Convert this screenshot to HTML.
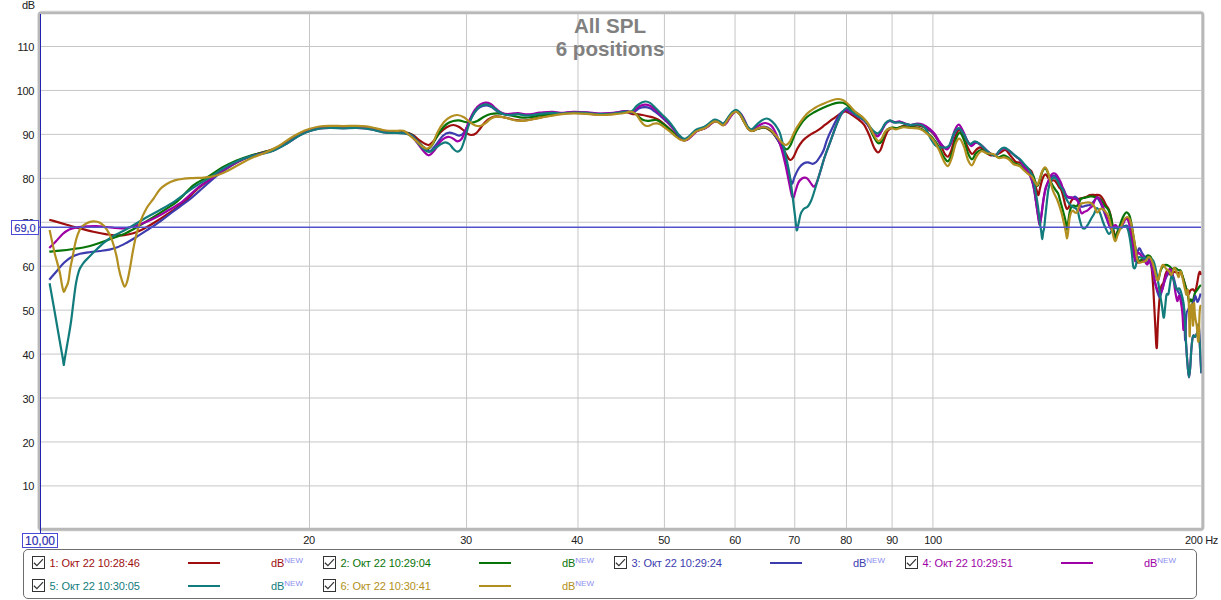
<!DOCTYPE html><html><head><meta charset="utf-8"><title>All SPL</title><style>
html,body{margin:0;padding:0;background:#fff}
body{width:1221px;height:600px;position:relative;overflow:hidden;font-family:"Liberation Sans",sans-serif;font-size:11px;color:#202020}
.t{position:absolute;white-space:nowrap;line-height:1;letter-spacing:-0.3px}
.yl{position:absolute;left:0;width:34.2px;letter-spacing:-0.3px;text-align:right;line-height:11px;height:11px}
.xl{position:absolute;top:535px;width:40px;letter-spacing:-0.25px;text-align:center;line-height:11px}
.title{position:absolute;left:410px;width:400px;text-align:center;font-weight:bold;font-size:20.6px;color:#808080;line-height:22.3px;top:15.4px}
.box{position:absolute;border:1px solid #4a4ad4;background:#fff;color:#2c2cb0;box-sizing:border-box;text-align:center;-webkit-text-stroke:0.15px #2c2cb0}
.leg{position:absolute;left:23px;top:549px;width:1174px;height:50px;border:1px solid #6e6e6e;border-radius:5px;box-sizing:border-box;background:#fff}
.cb{position:absolute;width:13px;height:13px;border:1px solid #333;box-sizing:border-box;background:#fff}
.cb svg{position:absolute;left:0;top:0}
.lt{position:absolute;white-space:nowrap;line-height:11px;font-size:11px;letter-spacing:-0.1px}
.sw{position:absolute;width:32px;height:2px}
.new{font-size:8px;color:#8c8cf0;position:relative;top:-4px;letter-spacing:0}
</style></head><body>
<svg width="1221" height="600" viewBox="0 0 1221 600" style="position:absolute;left:0;top:0">
<rect x="39.2" y="12.8" width="1163.6" height="516.6" rx="2.5" ry="2.5" fill="none" stroke="#e6e6e6" stroke-width="4.4"/>
<rect x="39.3" y="12.95" width="1163.4" height="516.3" rx="2" ry="2" fill="#fff" stroke="#b8b8b8" stroke-width="2.8"/>
<path d="M41 46.50H1201M41 90.44H1201M41 134.38H1201M41 178.32H1201M41 222.26H1201M41 266.20H1201M41 310.14H1201M41 354.08H1201M41 398.02H1201M41 441.96H1201M41 485.90H1201M309.49 14V528M466.55 14V528M577.98 14V528M664.42 14V528M735.04 14V528M794.75 14V528M846.47 14V528M892.10 14V528M932.91 14V528" stroke="#c6c6c6" stroke-width="1" fill="none"/>
<clipPath id="cp"><rect x="41" y="14" width="1160.5" height="514"/></clipPath>
<g clip-path="url(#cp)" fill="none" stroke-width="2.2" stroke-linejoin="round" stroke-linecap="butt">
<path d="M49.30 219.70C55.10 221.37 60.90 223.06 66.70 224.70C71.13 225.95 75.57 227.23 80.00 228.40C84.43 229.57 88.87 230.72 93.30 231.70C97.77 232.69 102.23 233.63 106.70 234.30C109.37 234.70 112.03 235.15 114.70 235.30C117.37 235.45 120.03 235.49 122.70 235.30C126.23 235.05 129.77 234.39 133.30 233.30C135.97 232.47 138.63 231.26 141.30 230.00C145.30 228.12 149.30 225.69 153.30 223.30C157.77 220.63 162.23 217.75 166.70 214.70C172.47 210.77 178.23 206.95 184.00 202.00C188.67 197.99 193.33 192.44 198.00 188.50C202.67 184.56 207.33 181.61 212.00 178.30C216.50 175.11 221.00 171.84 225.50 169.00C229.83 166.26 234.17 163.68 238.50 161.50C242.57 159.46 246.63 157.74 250.70 156.20C254.70 154.69 258.70 153.51 262.70 152.30C266.23 151.23 269.77 150.66 273.30 149.30C277.77 147.58 282.23 144.88 286.70 142.30C291.13 139.74 295.57 136.18 300.00 133.90C303.33 132.18 306.67 130.71 310.00 129.60C313.10 128.57 316.20 127.78 319.30 127.30C322.87 126.74 326.43 126.68 330.00 126.60C334.43 126.50 338.87 126.90 343.30 126.90C347.77 126.90 352.23 126.49 356.70 126.60C359.80 126.68 362.90 126.83 366.00 127.20C369.10 127.57 372.20 128.27 375.30 128.90C378.87 129.62 382.43 130.88 386.00 131.30C389.57 131.72 393.13 131.46 396.70 131.60C399.37 131.71 402.03 131.48 404.70 132.00C407.57 132.56 410.43 133.55 413.30 135.30C415.53 136.66 417.77 139.13 420.00 140.70C421.77 141.94 423.53 143.26 425.30 144.00C426.43 144.47 427.57 145.17 428.70 145.00C430.23 144.77 431.77 142.83 433.30 141.30C435.53 139.07 437.77 135.02 440.00 132.70C442.23 130.38 444.47 128.56 446.70 127.30C448.90 126.06 451.10 124.97 453.30 125.00C455.10 125.03 456.90 125.75 458.70 126.70C460.47 127.63 462.23 129.30 464.00 130.70C465.33 131.76 466.67 133.30 468.00 134.00C469.10 134.58 470.20 134.97 471.30 135.00C472.87 135.04 474.43 134.49 476.00 133.30C477.33 132.29 478.67 130.30 480.00 128.70C481.77 126.58 483.53 123.76 485.30 122.00C487.10 120.21 488.90 118.92 490.70 118.00C492.47 117.10 494.23 116.61 496.00 116.40C498.67 116.08 501.33 116.81 504.00 117.30C505.33 117.54 506.67 117.89 508.00 118.20C510.67 118.82 513.33 119.84 516.00 120.20C518.67 120.56 521.33 120.64 524.00 120.50C527.10 120.34 530.20 119.47 533.30 118.90C537.77 118.08 542.23 117.02 546.70 116.20C551.13 115.39 555.57 114.52 560.00 114.00C564.43 113.48 568.87 113.07 573.30 113.00C577.77 112.92 582.23 113.22 586.70 113.50C591.13 113.78 595.57 114.63 600.00 114.70C604.43 114.77 608.87 114.40 613.30 114.00C617.77 113.59 622.23 111.43 626.70 112.20C628.37 112.49 630.03 113.48 631.70 113.80C633.37 114.12 635.03 114.02 636.70 114.20C638.63 114.41 640.57 114.65 642.50 115.00C644.43 115.35 646.37 115.85 648.30 116.30C649.97 116.69 651.63 116.96 653.30 117.50C654.70 117.96 656.10 118.44 657.50 119.20C658.90 119.96 660.30 121.04 661.70 122.10C663.37 123.36 665.03 124.85 666.70 126.30C668.37 127.75 670.03 129.22 671.70 130.80C673.37 132.38 675.03 134.29 676.70 135.80C678.07 137.04 679.43 138.43 680.80 139.20C682.07 139.92 683.33 140.62 684.60 140.50C685.83 140.39 687.07 139.40 688.30 138.50C689.70 137.48 691.10 135.80 692.50 134.50C693.60 133.48 694.70 132.24 695.80 131.50C697.20 130.56 698.60 130.31 700.00 129.80C701.33 129.32 702.67 129.14 704.00 128.50C705.17 127.94 706.33 127.16 707.50 126.30C708.67 125.44 709.83 124.12 711.00 123.30C712.23 122.44 713.47 121.44 714.70 121.30C715.63 121.19 716.57 121.44 717.50 121.80C718.33 122.12 719.17 122.81 720.00 123.30C721.10 123.95 722.20 125.56 723.30 125.20C724.03 124.96 724.77 123.91 725.50 123.00C726.33 121.97 727.17 120.41 728.00 119.20C729.33 117.26 730.67 115.06 732.00 113.80C733.33 112.54 734.67 111.40 736.00 111.50C737.33 111.60 738.67 112.82 740.00 114.50C741.33 116.18 742.67 119.47 744.00 121.80C745.33 124.13 746.67 126.98 748.00 128.50C749.10 129.75 750.20 130.55 751.30 130.90C753.30 131.53 755.30 129.54 757.30 129.00C759.53 128.39 761.77 127.21 764.00 127.50C766.23 127.79 768.47 129.11 770.70 131.00C772.47 132.50 774.23 134.57 776.00 137.00C777.33 138.84 778.67 141.09 780.00 143.30C781.77 146.23 783.53 149.58 785.30 152.70C786.43 154.70 787.57 157.52 788.70 158.70C789.37 159.40 790.03 160.05 790.70 160.00C791.57 159.94 792.43 158.57 793.30 157.30C794.63 155.35 795.97 151.17 797.30 148.70C799.10 145.36 800.90 142.80 802.70 140.70C804.90 138.13 807.10 136.85 809.30 135.30C811.97 133.42 814.63 132.46 817.30 130.70C819.97 128.94 822.63 126.70 825.30 124.70C827.97 122.70 830.63 120.63 833.30 118.70C835.53 117.08 837.77 115.33 840.00 114.00C841.77 112.95 843.53 111.31 845.30 111.30C847.10 111.29 848.90 112.93 850.70 114.00C852.90 115.31 855.10 116.94 857.30 118.70C859.53 120.49 861.77 121.39 864.00 124.70C865.77 127.32 867.53 131.35 869.30 135.30C871.10 139.32 872.90 145.78 874.70 148.70C875.80 150.48 876.90 152.46 878.00 152.40C878.83 152.35 879.67 151.42 880.50 150.00C881.67 148.01 882.83 143.04 884.00 140.00C885.33 136.53 886.67 132.63 888.00 130.70C889.33 128.77 890.67 128.42 892.00 128.00C893.77 127.44 895.53 128.58 897.30 128.30C899.10 128.01 900.90 126.30 902.70 126.00C904.90 125.64 907.10 126.74 909.30 126.70C911.97 126.65 914.63 125.11 917.30 125.30C919.53 125.46 921.77 126.31 924.00 127.30C926.23 128.29 928.47 129.33 930.70 131.30C932.47 132.86 934.23 134.75 936.00 137.30C937.77 139.85 939.53 143.34 941.30 146.70C942.63 149.23 943.97 153.07 945.30 154.70C946.20 155.80 947.10 157.10 948.00 156.70C948.90 156.30 949.80 154.13 950.70 152.00C952.03 148.85 953.37 142.35 954.70 138.70C956.03 135.05 957.37 130.59 958.70 130.00C960.03 129.41 961.37 132.40 962.70 134.70C964.47 137.75 966.23 144.60 968.00 148.00C969.33 150.57 970.67 153.71 972.00 154.00C973.33 154.29 974.67 151.11 976.00 150.00C977.33 148.89 978.67 147.30 980.00 147.30C981.77 147.29 983.53 150.68 985.30 152.00C987.10 153.34 988.90 154.91 990.70 155.30C992.47 155.68 994.23 155.22 996.00 154.70C997.77 154.18 999.53 152.89 1001.30 152.00C1002.63 151.33 1003.97 149.78 1005.30 150.00C1007.10 150.29 1008.90 153.98 1010.70 156.00C1012.47 157.98 1014.23 161.03 1016.00 162.00C1017.33 162.74 1018.67 162.16 1020.00 162.70C1021.77 163.42 1023.53 165.47 1025.30 166.70C1026.63 167.63 1027.97 168.08 1029.30 169.30C1030.20 170.12 1031.10 170.10 1032.00 172.30C1032.90 174.50 1033.80 179.59 1034.70 183.00C1035.37 185.52 1036.03 188.24 1036.70 190.30C1037.30 192.16 1037.90 195.66 1038.50 195.00C1039.00 194.45 1039.50 190.43 1040.00 188.30C1040.67 185.46 1041.33 182.38 1042.00 180.30C1042.67 178.22 1043.33 176.68 1044.00 175.70C1044.57 174.87 1045.13 174.18 1045.70 174.30C1046.23 174.41 1046.77 175.53 1047.30 176.30C1047.97 177.27 1048.63 178.99 1049.30 179.70C1049.97 180.41 1050.63 180.57 1051.30 180.70C1052.20 180.88 1053.10 179.96 1054.00 180.30C1054.90 180.64 1055.80 181.74 1056.70 183.00C1057.57 184.21 1058.43 186.46 1059.30 187.70C1059.97 188.65 1060.63 188.54 1061.30 190.00C1061.97 191.46 1062.63 194.15 1063.30 196.70C1063.97 199.25 1064.63 203.22 1065.30 205.30C1065.87 207.07 1066.43 208.71 1067.00 209.00C1067.57 209.29 1068.13 208.27 1068.70 207.30C1069.37 206.15 1070.03 203.34 1070.70 202.00C1071.57 200.26 1072.43 199.31 1073.30 198.70C1074.87 197.60 1076.43 199.10 1078.00 199.00C1079.57 198.90 1081.13 198.43 1082.70 198.00C1084.03 197.64 1085.37 197.27 1086.70 196.70C1087.80 196.23 1088.90 195.30 1090.00 195.00C1091.67 194.54 1093.33 194.93 1095.00 195.00C1096.67 195.07 1098.33 194.34 1100.00 195.50C1101.00 196.20 1102.00 197.43 1103.00 199.00C1104.00 200.57 1105.00 203.17 1106.00 205.00C1107.00 206.83 1108.00 207.29 1109.00 210.00C1109.67 211.81 1110.33 213.99 1111.00 217.00C1111.50 219.26 1112.00 222.50 1112.50 225.00C1113.00 227.50 1113.50 229.87 1114.00 232.00C1114.33 233.42 1114.67 235.24 1115.00 236.00C1116.00 238.27 1117.00 232.70 1118.00 231.00C1119.33 228.73 1120.67 226.17 1122.00 224.00C1123.33 221.83 1124.67 218.31 1126.00 218.00C1127.00 217.77 1128.00 216.98 1129.00 220.00C1129.67 222.02 1130.33 225.85 1131.00 230.00C1131.67 234.15 1132.33 240.51 1133.00 245.00C1133.67 249.49 1134.33 254.22 1135.00 257.00C1135.67 259.78 1136.33 261.12 1137.00 262.00C1138.00 263.32 1139.00 262.19 1140.00 262.00C1141.33 261.75 1142.67 260.67 1144.00 260.00C1145.33 259.33 1146.67 257.07 1148.00 258.00C1148.83 258.58 1149.67 258.76 1150.50 262.00C1150.90 263.56 1151.30 265.01 1151.70 268.30C1152.27 272.96 1152.83 281.00 1153.40 290.00C1154.00 299.53 1154.60 315.16 1155.20 324.80C1155.77 333.91 1156.33 352.91 1156.90 347.10C1157.20 344.02 1157.50 331.11 1157.80 324.80C1158.30 314.28 1158.80 307.65 1159.30 301.70C1159.87 294.96 1160.43 290.72 1161.00 287.70C1161.77 283.61 1162.53 285.23 1163.30 283.00C1164.10 280.67 1164.90 275.93 1165.70 273.70C1166.27 272.12 1166.83 270.55 1167.40 270.20C1168.37 269.59 1169.33 274.33 1170.30 274.80C1171.53 275.40 1172.77 272.30 1174.00 272.00C1175.33 271.68 1176.67 272.87 1178.00 273.00C1179.00 273.09 1180.00 271.78 1181.00 273.00C1181.73 273.90 1182.47 276.27 1183.20 278.30C1184.37 281.53 1185.53 286.55 1186.70 290.00C1187.27 291.68 1187.83 294.54 1188.40 294.70C1189.00 294.87 1189.60 291.48 1190.20 290.60C1191.17 289.18 1192.13 289.18 1193.10 289.40C1193.87 289.57 1194.63 292.69 1195.40 291.20C1196.00 290.03 1196.60 286.01 1197.20 283.00C1197.77 280.16 1198.33 275.42 1198.90 273.70C1199.30 272.48 1199.70 271.43 1200.10 271.90C1200.40 272.25 1200.70 273.97 1201.00 275.00" stroke="#9e0e0e"/>
<path d="M49.30 251.70C52.87 251.37 56.43 251.09 60.00 250.70C64.43 250.22 68.87 249.66 73.30 249.00C77.77 248.33 82.23 247.75 86.70 246.70C91.13 245.66 95.57 244.15 100.00 242.70C104.43 241.25 108.87 239.66 113.30 238.00C117.77 236.33 122.23 234.84 126.70 232.70C130.70 230.78 134.70 228.30 138.70 226.00C143.57 223.20 148.43 220.32 153.30 217.30C157.77 214.53 162.23 211.71 166.70 208.70C170.23 206.32 173.77 204.19 177.30 201.30C182.63 196.94 187.97 189.48 193.30 185.30C198.63 181.12 203.97 179.29 209.30 176.00C213.77 173.24 218.23 169.85 222.70 167.30C227.13 164.77 231.57 162.58 236.00 160.70C240.43 158.82 244.87 157.36 249.30 156.00C253.77 154.63 258.23 153.72 262.70 152.50C266.23 151.53 269.77 150.86 273.30 149.50C277.77 147.78 282.23 145.08 286.70 142.50C291.13 139.94 295.57 136.38 300.00 134.10C303.33 132.38 306.67 130.91 310.00 129.80C313.10 128.77 316.20 127.98 319.30 127.50C322.87 126.94 326.43 126.88 330.00 126.80C334.43 126.70 338.87 127.10 343.30 127.10C347.77 127.10 352.23 126.69 356.70 126.80C359.80 126.88 362.90 127.03 366.00 127.40C369.10 127.77 372.20 128.47 375.30 129.10C378.87 129.82 382.43 131.08 386.00 131.50C389.57 131.92 393.13 131.66 396.70 131.80C399.37 131.91 402.03 131.64 404.70 132.20C407.13 132.71 409.57 133.19 412.00 135.00C414.00 136.49 416.00 139.42 418.00 141.50C419.67 143.23 421.33 145.15 423.00 146.50C424.43 147.66 425.87 149.43 427.30 149.30C428.53 149.19 429.77 147.91 431.00 146.50C432.23 145.09 433.47 142.74 434.70 140.70C436.47 137.78 438.23 133.88 440.00 131.30C442.23 128.04 444.47 125.68 446.70 124.00C448.90 122.34 451.10 121.56 453.30 121.00C455.10 120.54 456.90 120.32 458.70 120.40C460.90 120.49 463.10 121.62 465.30 122.00C467.53 122.38 469.77 122.96 472.00 122.70C473.77 122.49 475.53 121.81 477.30 121.00C479.53 119.98 481.77 117.86 484.00 116.70C486.23 115.54 488.47 114.54 490.70 114.00C492.90 113.47 495.10 113.30 497.30 113.30C499.53 113.30 501.77 113.67 504.00 114.00C507.10 114.46 510.20 115.37 513.30 116.00C515.53 116.45 517.77 117.06 520.00 117.30C522.67 117.59 525.33 117.62 528.00 117.50C532.00 117.32 536.00 116.06 540.00 115.50C543.33 115.03 546.67 114.60 550.00 114.30C553.33 114.00 556.67 113.92 560.00 113.70C564.43 113.41 568.87 112.77 573.30 112.70C577.77 112.62 582.23 112.92 586.70 113.20C591.13 113.48 595.57 114.33 600.00 114.40C604.43 114.47 608.87 114.10 613.30 113.70C617.77 113.29 622.23 111.87 626.70 111.90C628.63 111.91 630.57 111.68 632.50 112.30C633.90 112.75 635.30 113.49 636.70 114.60C637.80 115.47 638.90 117.01 640.00 117.90C641.10 118.79 642.20 119.53 643.30 120.00C644.70 120.59 646.10 120.74 647.50 120.80C648.90 120.86 650.30 120.53 651.70 120.40C653.07 120.27 654.43 119.80 655.80 120.00C656.93 120.16 658.07 120.70 659.20 121.30C660.57 122.02 661.93 123.16 663.30 124.20C664.97 125.46 666.63 126.86 668.30 128.30C670.20 129.94 672.10 131.84 674.00 133.50C676.00 135.25 678.00 137.37 680.00 138.50C681.53 139.36 683.07 140.38 684.60 140.20C685.83 140.05 687.07 139.10 688.30 138.20C689.70 137.18 691.10 135.50 692.50 134.20C693.60 133.18 694.70 131.94 695.80 131.20C697.20 130.26 698.60 130.01 700.00 129.50C701.33 129.02 702.67 128.84 704.00 128.20C705.17 127.64 706.33 126.86 707.50 126.00C708.67 125.14 709.83 123.82 711.00 123.00C712.23 122.14 713.47 121.14 714.70 121.00C715.63 120.89 716.57 121.14 717.50 121.50C718.33 121.82 719.17 122.51 720.00 123.00C721.10 123.65 722.20 125.26 723.30 124.90C724.03 124.66 724.77 123.61 725.50 122.70C726.33 121.67 727.17 120.11 728.00 118.90C729.33 116.96 730.67 114.76 732.00 113.50C733.33 112.24 734.67 111.10 736.00 111.20C737.33 111.30 738.67 112.52 740.00 114.20C741.33 115.88 742.67 119.17 744.00 121.50C745.33 123.83 746.67 126.68 748.00 128.20C749.10 129.45 750.20 130.24 751.30 130.60C753.30 131.26 755.30 129.49 757.30 129.00C759.53 128.45 761.77 127.28 764.00 127.50C766.23 127.72 768.47 128.66 770.70 130.50C772.90 132.32 775.10 135.84 777.30 138.70C779.10 141.04 780.90 144.12 782.70 146.00C784.03 147.39 785.37 149.49 786.70 149.30C788.03 149.11 789.37 147.09 790.70 144.70C792.03 142.31 793.37 137.60 794.70 134.70C796.47 130.86 798.23 127.96 800.00 125.30C802.23 121.93 804.47 119.40 806.70 117.30C809.37 114.79 812.03 113.55 814.70 112.00C817.37 110.45 820.03 109.22 822.70 108.00C825.37 106.78 828.03 105.58 830.70 104.70C833.37 103.82 836.03 102.90 838.70 102.70C840.03 102.60 841.37 102.41 842.70 102.70C844.03 102.99 845.37 103.71 846.70 104.70C848.03 105.69 849.37 107.51 850.70 108.70C852.47 110.27 854.23 111.34 856.00 112.70C858.23 114.42 860.47 115.66 862.70 118.00C864.47 119.85 866.23 121.72 868.00 124.70C869.77 127.68 871.53 132.94 873.30 136.00C875.10 139.12 876.90 143.24 878.70 143.30C879.63 143.33 880.57 142.79 881.50 141.50C882.77 139.75 884.03 134.19 885.30 132.00C887.10 128.89 888.90 128.36 890.70 127.70C892.90 126.89 895.10 128.22 897.30 128.00C899.10 127.82 900.90 126.84 902.70 126.70C904.90 126.52 907.10 127.12 909.30 127.30C912.43 127.56 915.57 127.05 918.70 128.00C920.90 128.66 923.10 129.78 925.30 131.30C927.53 132.84 929.77 134.75 932.00 137.30C934.23 139.85 936.47 142.84 938.70 146.70C940.47 149.75 942.23 154.80 944.00 157.30C945.33 159.19 946.67 161.89 948.00 161.30C949.33 160.71 950.67 157.03 952.00 153.30C953.33 149.57 954.67 142.19 956.00 138.70C957.10 135.82 958.20 133.11 959.30 132.70C960.87 132.11 962.43 136.14 964.00 140.00C965.33 143.29 966.67 150.14 968.00 153.30C969.33 156.46 970.67 159.30 972.00 159.30C973.33 159.30 974.67 154.76 976.00 153.30C977.77 151.36 979.53 150.02 981.30 150.00C983.10 149.98 984.90 152.55 986.70 153.30C988.90 154.22 991.10 153.92 993.30 154.70C995.10 155.34 996.90 157.22 998.70 157.30C1000.47 157.37 1002.23 155.11 1004.00 155.30C1005.33 155.44 1006.67 156.35 1008.00 157.30C1009.77 158.56 1011.53 161.43 1013.30 162.70C1015.53 164.31 1017.77 163.79 1020.00 165.30C1022.23 166.81 1024.47 170.44 1026.70 172.00C1028.47 173.23 1030.23 173.06 1032.00 174.50C1032.43 174.85 1032.87 174.97 1033.30 175.70C1033.97 176.83 1034.63 180.04 1035.30 181.70C1036.03 183.52 1036.77 186.24 1037.50 186.00C1038.17 185.78 1038.83 182.93 1039.50 181.00C1040.33 178.59 1041.17 174.53 1042.00 172.50C1043.00 170.07 1044.00 168.23 1045.00 168.30C1046.00 168.37 1047.00 170.33 1048.00 173.00C1048.67 174.78 1049.33 178.13 1050.00 180.00C1050.67 181.87 1051.33 183.00 1052.00 184.30C1053.10 186.44 1054.20 187.94 1055.30 189.70C1056.43 191.51 1057.57 191.47 1058.70 195.00C1059.13 196.35 1059.57 198.36 1060.00 200.00C1061.10 204.16 1062.20 207.67 1063.30 212.00C1064.20 215.54 1065.10 217.96 1066.00 223.30C1066.33 225.28 1066.67 230.00 1067.00 230.00C1067.33 230.00 1067.67 225.53 1068.00 223.30C1068.57 219.51 1069.13 214.76 1069.70 212.00C1070.23 209.40 1070.77 207.79 1071.30 206.70C1072.20 204.87 1073.10 205.76 1074.00 205.70C1074.90 205.64 1075.80 206.91 1076.70 206.30C1077.37 205.85 1078.03 204.46 1078.70 203.30C1079.37 202.14 1080.03 200.16 1080.70 199.30C1081.57 198.19 1082.43 198.32 1083.30 198.00C1084.43 197.59 1085.57 197.59 1086.70 197.30C1087.80 197.02 1088.90 196.39 1090.00 196.30C1091.10 196.21 1092.20 196.54 1093.30 196.70C1094.43 196.87 1095.57 196.96 1096.70 197.30C1097.80 197.63 1098.90 197.81 1100.00 198.70C1101.67 200.05 1103.33 203.76 1105.00 206.00C1106.33 207.79 1107.67 207.53 1109.00 211.00C1109.83 213.17 1110.67 215.71 1111.50 220.00C1112.17 223.43 1112.83 229.90 1113.50 233.00C1114.00 235.32 1114.50 237.63 1115.00 238.00C1115.67 238.49 1116.33 234.71 1117.00 233.00C1118.00 230.43 1119.00 227.67 1120.00 225.00C1121.00 222.33 1122.00 218.96 1123.00 217.00C1124.33 214.39 1125.67 212.06 1127.00 212.50C1128.00 212.83 1129.00 213.54 1130.00 217.00C1130.67 219.30 1131.33 223.17 1132.00 227.00C1132.67 230.83 1133.33 236.11 1134.00 240.00C1134.50 242.92 1135.00 245.33 1135.50 248.00C1136.00 250.67 1136.50 253.95 1137.00 256.00C1137.43 257.77 1137.87 259.21 1138.30 260.00C1139.20 261.64 1140.10 260.20 1141.00 260.00C1142.17 259.74 1143.33 258.78 1144.50 258.00C1145.63 257.24 1146.77 255.33 1147.90 255.40C1149.17 255.48 1150.43 255.39 1151.70 259.20C1152.13 260.50 1152.57 262.63 1153.00 264.30C1153.73 267.12 1154.47 270.13 1155.20 272.50C1156.17 275.62 1157.13 280.93 1158.10 280.10C1158.87 279.44 1159.63 273.50 1160.40 271.30C1161.37 268.52 1162.33 267.12 1163.30 266.10C1165.27 264.02 1167.23 264.94 1169.20 266.10C1170.17 266.67 1171.13 268.75 1172.10 269.00C1173.07 269.25 1174.03 267.73 1175.00 267.80C1176.17 267.89 1177.33 269.71 1178.50 270.20C1179.27 270.52 1180.03 269.63 1180.80 270.80C1181.60 272.02 1182.40 275.62 1183.20 278.30C1183.97 280.87 1184.73 283.77 1185.50 286.50C1186.27 289.23 1187.03 290.87 1187.80 294.70C1188.20 296.70 1188.60 300.66 1189.00 301.70C1189.60 303.27 1190.20 299.26 1190.80 299.30C1191.37 299.34 1191.93 302.05 1192.50 301.70C1193.27 301.23 1194.03 295.40 1194.80 293.50C1195.60 291.52 1196.40 291.19 1197.20 290.00C1197.97 288.86 1198.73 287.42 1199.50 286.50C1200.00 285.90 1200.50 285.50 1201.00 285.00" stroke="#087408"/>
<path d="M49.30 279.70C51.53 277.13 53.77 274.58 56.00 272.00C58.67 268.92 61.33 265.24 64.00 262.70C66.67 260.16 69.33 258.18 72.00 256.70C74.67 255.22 77.33 254.44 80.00 253.70C83.57 252.72 87.13 252.47 90.70 252.00C93.80 251.59 96.90 251.40 100.00 251.00C103.10 250.60 106.20 250.29 109.30 249.60C111.97 249.01 114.63 248.31 117.30 247.30C120.43 246.12 123.57 244.38 126.70 242.70C129.80 241.04 132.90 239.19 136.00 237.30C139.57 235.12 143.13 232.74 146.70 230.40C150.23 228.08 153.77 225.78 157.30 223.30C162.63 219.56 167.97 215.22 173.30 211.30C178.20 207.70 183.10 204.58 188.00 200.70C192.90 196.82 197.80 192.31 202.70 188.00C206.70 184.48 210.70 180.51 214.70 177.30C218.70 174.09 222.70 171.36 226.70 168.70C230.70 166.04 234.70 163.36 238.70 161.30C242.70 159.24 246.70 157.66 250.70 156.30C254.70 154.94 258.70 154.20 262.70 153.10C266.23 152.13 269.77 151.46 273.30 150.10C277.77 148.38 282.23 145.68 286.70 143.10C291.13 140.54 295.57 136.98 300.00 134.70C303.33 132.98 306.67 131.51 310.00 130.40C313.10 129.37 316.20 128.58 319.30 128.10C322.87 127.54 326.43 127.48 330.00 127.40C334.43 127.30 338.87 127.70 343.30 127.70C347.77 127.70 352.23 127.29 356.70 127.40C359.80 127.48 362.90 127.63 366.00 128.00C369.10 128.37 372.20 129.07 375.30 129.70C378.87 130.42 382.43 131.68 386.00 132.10C389.57 132.52 393.13 132.26 396.70 132.40C399.37 132.51 402.03 132.26 404.70 132.80C407.13 133.29 409.57 133.71 412.00 135.50C414.00 136.97 416.00 139.83 418.00 142.00C420.00 144.17 422.00 146.98 424.00 148.50C426.00 150.02 428.00 151.86 430.00 151.30C432.00 150.74 434.00 147.09 436.00 144.70C438.23 142.04 440.47 137.95 442.70 136.00C444.90 134.07 447.10 132.88 449.30 132.70C451.10 132.55 452.90 133.47 454.70 134.00C456.23 134.46 457.77 135.77 459.30 135.60C460.87 135.42 462.43 134.76 464.00 132.70C465.33 130.95 466.67 127.37 468.00 124.70C469.33 122.03 470.67 119.01 472.00 116.70C473.77 113.64 475.53 111.05 477.30 109.30C479.10 107.52 480.90 106.63 482.70 106.00C484.03 105.53 485.37 105.23 486.70 105.30C488.47 105.40 490.23 106.31 492.00 107.30C493.77 108.29 495.53 110.26 497.30 111.30C499.53 112.62 501.77 113.50 504.00 114.00C506.23 114.50 508.47 114.56 510.70 114.50C512.90 114.44 515.10 113.64 517.30 113.60C520.43 113.55 523.57 114.91 526.70 115.00C531.13 115.13 535.57 113.73 540.00 113.30C544.43 112.87 548.87 112.18 553.30 112.40C555.53 112.51 557.77 113.09 560.00 113.20C564.43 113.41 568.87 112.27 573.30 112.20C577.77 112.12 582.23 112.42 586.70 112.70C591.13 112.98 595.57 113.83 600.00 113.90C604.43 113.97 608.87 113.60 613.30 113.20C617.77 112.79 622.23 110.97 626.70 111.40C628.47 111.57 630.23 112.78 632.00 112.50C633.00 112.34 634.00 111.83 635.00 111.30C636.40 110.56 637.80 108.97 639.20 108.30C641.13 107.37 643.07 107.04 645.00 107.10C646.67 107.15 648.33 107.55 650.00 108.30C651.67 109.05 653.33 110.48 655.00 111.70C657.23 113.34 659.47 115.15 661.70 117.10C663.90 119.02 666.10 121.01 668.30 123.30C670.27 125.35 672.23 127.67 674.20 130.00C675.57 131.62 676.93 133.55 678.30 135.00C679.37 136.13 680.43 137.24 681.50 138.00C682.53 138.74 683.57 139.57 684.60 139.60C685.83 139.64 687.07 138.50 688.30 137.60C689.70 136.58 691.10 134.90 692.50 133.60C693.60 132.58 694.70 131.34 695.80 130.60C697.20 129.66 698.60 129.41 700.00 128.90C701.33 128.42 702.67 128.24 704.00 127.60C705.17 127.04 706.33 126.26 707.50 125.40C708.67 124.54 709.83 123.22 711.00 122.40C712.23 121.54 713.47 120.54 714.70 120.40C715.63 120.29 716.57 120.54 717.50 120.90C718.33 121.22 719.17 121.91 720.00 122.40C721.10 123.05 722.20 124.66 723.30 124.30C724.03 124.06 724.77 123.01 725.50 122.10C726.33 121.07 727.17 119.51 728.00 118.30C729.33 116.36 730.67 114.16 732.00 112.90C733.33 111.64 734.67 110.50 736.00 110.60C737.33 110.70 738.67 111.92 740.00 113.60C741.33 115.28 742.67 118.57 744.00 120.90C745.33 123.23 746.67 126.08 748.00 127.60C749.10 128.85 750.20 129.63 751.30 130.00C753.30 130.67 755.30 129.02 757.30 128.50C759.53 127.92 761.77 126.55 764.00 126.70C766.23 126.85 768.47 127.41 770.70 129.50C772.47 131.16 774.23 134.04 776.00 137.00C778.17 140.63 780.33 143.62 782.50 150.00C784.00 154.41 785.50 160.71 787.00 166.50C788.00 170.36 789.00 175.19 790.00 178.50C790.60 180.48 791.20 183.31 791.80 183.70C792.70 184.29 793.60 179.06 794.50 177.00C796.00 173.56 797.50 170.22 799.00 168.00C800.50 165.78 802.00 164.39 803.50 163.50C805.00 162.61 806.50 162.36 808.00 162.40C809.50 162.44 811.00 163.97 812.50 163.80C813.73 163.66 814.97 163.12 816.20 162.00C817.47 160.85 818.73 158.73 820.00 156.70C821.23 154.72 822.47 153.08 823.70 150.00C824.70 147.50 825.70 143.51 826.70 140.70C828.90 134.53 831.10 130.42 833.30 126.00C835.53 121.52 837.77 116.66 840.00 114.00C841.77 111.89 843.53 110.21 845.30 110.00C847.10 109.79 848.90 111.80 850.70 112.70C852.90 113.80 855.10 114.80 857.30 116.00C859.53 117.22 861.77 117.87 864.00 120.00C865.77 121.68 867.53 124.39 869.30 126.70C871.10 129.05 872.90 132.28 874.70 134.00C875.57 134.83 876.43 136.00 877.30 136.00C878.63 136.00 879.97 133.29 881.30 131.30C882.63 129.31 883.97 125.68 885.30 124.00C886.63 122.32 887.97 121.37 889.30 121.00C891.10 120.50 892.90 122.36 894.70 122.50C896.47 122.64 898.23 121.78 900.00 122.00C901.77 122.22 903.53 123.51 905.30 124.00C907.10 124.50 908.90 124.95 910.70 125.00C912.90 125.07 915.10 123.88 917.30 124.00C919.10 124.10 920.90 124.58 922.70 125.30C924.90 126.17 927.10 127.51 929.30 129.30C931.10 130.77 932.90 132.25 934.70 134.70C936.03 136.51 937.37 139.42 938.70 141.30C940.03 143.18 941.37 144.82 942.70 146.00C944.23 147.36 945.77 149.42 947.30 148.70C948.37 148.20 949.43 146.56 950.50 144.50C951.83 141.93 953.17 136.07 954.50 133.50C955.90 130.81 957.30 128.80 958.70 128.70C960.13 128.59 961.57 130.94 963.00 133.00C964.33 134.91 965.67 138.51 967.00 140.50C968.33 142.49 969.67 144.67 971.00 145.00C972.50 145.37 974.00 142.17 975.50 142.00C977.43 141.78 979.37 143.82 981.30 145.30C983.10 146.68 984.90 148.96 986.70 150.50C988.47 152.01 990.23 153.84 992.00 154.50C993.33 155.00 994.67 155.62 996.00 155.00C997.33 154.38 998.67 151.45 1000.00 150.30C1001.33 149.15 1002.67 148.10 1004.00 148.00C1005.77 147.87 1007.53 149.77 1009.30 151.00C1011.10 152.25 1012.90 153.99 1014.70 155.50C1016.47 156.99 1018.23 157.68 1020.00 160.00C1021.33 161.75 1022.67 164.86 1024.00 166.80C1025.33 168.74 1026.67 169.55 1028.00 171.70C1029.00 173.32 1030.00 174.81 1031.00 177.50C1031.67 179.29 1032.33 181.07 1033.00 184.00C1033.50 186.20 1034.00 189.06 1034.50 192.00C1035.23 196.31 1035.97 201.97 1036.70 206.70C1037.47 211.65 1038.23 216.37 1039.00 221.00C1039.17 222.01 1039.33 223.67 1039.50 224.00C1039.77 224.53 1040.03 222.22 1040.30 221.00C1040.70 219.17 1041.10 216.63 1041.50 214.00C1042.07 210.27 1042.63 204.67 1043.20 201.00C1043.97 196.04 1044.73 192.49 1045.50 189.50C1046.33 186.25 1047.17 184.44 1048.00 182.50C1048.90 180.40 1049.80 178.61 1050.70 177.50C1051.57 176.43 1052.43 175.86 1053.30 175.70C1054.20 175.54 1055.10 175.76 1056.00 176.50C1057.00 177.32 1058.00 179.23 1059.00 181.00C1059.83 182.47 1060.67 184.50 1061.50 186.00C1062.33 187.50 1063.17 188.32 1064.00 190.00C1064.90 191.81 1065.80 195.44 1066.70 196.70C1067.57 197.91 1068.43 197.81 1069.30 198.00C1070.43 198.24 1071.57 197.98 1072.70 197.70C1073.57 197.49 1074.43 196.40 1075.30 196.70C1075.97 196.93 1076.63 197.62 1077.30 198.70C1077.97 199.78 1078.63 201.97 1079.30 203.30C1079.97 204.63 1080.63 206.16 1081.30 206.70C1082.20 207.42 1083.10 206.49 1084.00 206.30C1085.10 206.06 1086.20 205.51 1087.30 205.30C1088.20 205.13 1089.10 205.39 1090.00 205.00C1091.33 204.42 1092.67 202.33 1094.00 201.00C1095.00 200.00 1096.00 197.85 1097.00 198.00C1098.00 198.15 1099.00 200.18 1100.00 202.00C1101.00 203.82 1102.00 206.50 1103.00 209.00C1104.00 211.50 1105.00 214.33 1106.00 217.00C1107.00 219.67 1108.00 222.73 1109.00 225.00C1109.67 226.51 1110.33 228.32 1111.00 229.00C1112.33 230.37 1113.67 227.00 1115.00 227.00C1116.33 227.00 1117.67 228.88 1119.00 229.00C1121.00 229.18 1123.00 225.90 1125.00 226.00C1126.00 226.05 1127.00 224.69 1128.00 227.00C1128.67 228.54 1129.33 232.00 1130.00 235.00C1130.67 238.00 1131.33 241.50 1132.00 245.00C1132.67 248.50 1133.33 254.00 1134.00 256.00C1134.50 257.50 1135.00 258.23 1135.50 258.00C1136.17 257.69 1136.83 253.70 1137.50 252.00C1138.07 250.56 1138.63 248.61 1139.20 248.30C1140.03 247.85 1140.87 251.16 1141.70 252.50C1142.80 254.27 1143.90 255.54 1145.00 257.50C1145.83 258.99 1146.67 261.84 1147.50 262.50C1148.33 263.16 1149.17 260.85 1150.00 262.00C1150.57 262.78 1151.13 264.71 1151.70 266.70C1152.67 270.10 1153.63 276.44 1154.60 280.70C1155.57 284.96 1156.53 289.52 1157.50 292.30C1158.27 294.51 1159.03 297.42 1159.80 297.00C1160.53 296.60 1161.27 292.38 1162.00 290.00C1163.00 286.75 1164.00 282.65 1165.00 280.00C1166.00 277.35 1167.00 275.21 1168.00 274.00C1169.17 272.59 1170.33 271.11 1171.50 272.50C1172.27 273.41 1173.03 275.86 1173.80 278.30C1174.60 280.85 1175.40 285.23 1176.20 287.70C1177.37 291.30 1178.53 291.66 1179.70 294.70C1180.47 296.70 1181.23 298.25 1182.00 301.70C1182.77 305.15 1183.53 300.45 1184.30 315.70C1184.60 321.67 1184.90 340.14 1185.20 340.00C1185.47 339.88 1185.73 324.82 1186.00 320.00C1186.67 307.95 1187.33 312.25 1188.00 310.00C1189.00 306.63 1190.00 307.47 1191.00 306.00C1191.90 304.68 1192.80 304.12 1193.70 301.70C1194.27 300.18 1194.83 295.90 1195.40 295.80C1196.00 295.70 1196.60 301.24 1197.20 301.70C1197.77 302.13 1198.33 300.58 1198.90 299.30C1199.50 297.95 1200.10 295.43 1200.70 293.50" stroke="#3c3cae"/>
<path d="M49.30 248.00C51.53 245.77 53.77 243.63 56.00 241.30C58.23 238.97 60.47 235.94 62.70 234.00C64.90 232.08 67.10 230.67 69.30 229.60C71.97 228.31 74.63 227.83 77.30 227.30C80.43 226.68 83.57 226.51 86.70 226.30C89.80 226.09 92.90 225.93 96.00 226.00C99.57 226.08 103.13 226.60 106.70 227.00C109.37 227.30 112.03 227.79 114.70 228.00C117.37 228.21 120.03 228.40 122.70 228.30C125.37 228.20 128.03 227.89 130.70 227.30C133.37 226.71 136.03 225.65 138.70 224.70C143.57 222.97 148.43 221.05 153.30 218.70C157.77 216.54 162.23 213.91 166.70 211.30C172.03 208.18 177.37 205.38 182.70 201.30C187.47 197.66 192.23 192.31 197.00 188.50C202.00 184.51 207.00 181.52 212.00 178.00C216.33 174.95 220.67 171.55 225.00 168.80C229.33 166.05 233.67 163.56 238.00 161.50C242.23 159.49 246.47 157.85 250.70 156.50C254.70 155.23 258.70 154.57 262.70 153.50C266.23 152.56 269.77 151.86 273.30 150.50C277.77 148.78 282.23 146.08 286.70 143.50C291.13 140.94 295.57 137.38 300.00 135.10C303.33 133.38 306.67 131.91 310.00 130.80C313.10 129.77 316.20 128.98 319.30 128.50C322.87 127.94 326.43 127.88 330.00 127.80C334.43 127.70 338.87 128.10 343.30 128.10C347.77 128.10 352.23 127.69 356.70 127.80C359.80 127.88 362.90 128.03 366.00 128.40C369.10 128.77 372.20 129.47 375.30 130.10C378.87 130.82 382.43 132.08 386.00 132.50C389.57 132.92 393.13 132.66 396.70 132.80C399.37 132.91 402.03 132.64 404.70 133.20C406.80 133.64 408.90 133.93 411.00 135.50C413.00 137.00 415.00 140.00 417.00 142.50C419.00 145.00 421.00 148.35 423.00 150.50C424.90 152.54 426.80 155.30 428.70 155.30C430.70 155.30 432.70 152.41 434.70 150.00C436.47 147.87 438.23 144.03 440.00 142.00C441.77 139.97 443.53 138.46 445.30 137.70C446.63 137.13 447.97 136.85 449.30 137.00C450.63 137.15 451.97 137.99 453.30 138.70C454.63 139.41 455.97 141.21 457.30 141.30C458.63 141.39 459.97 140.89 461.30 139.30C462.63 137.71 463.97 134.39 465.30 131.30C466.63 128.21 467.97 123.84 469.30 120.70C471.10 116.46 472.90 112.64 474.70 110.00C476.47 107.41 478.23 105.89 480.00 104.70C481.77 103.51 483.53 102.81 485.30 102.70C487.10 102.59 488.90 103.02 490.70 104.00C492.47 104.96 494.23 107.29 496.00 108.70C498.23 110.48 500.47 112.46 502.70 113.30C505.37 114.30 508.03 114.00 510.70 113.90C512.90 113.82 515.10 113.04 517.30 113.00C520.43 112.95 523.57 114.31 526.70 114.40C531.13 114.53 535.57 113.13 540.00 112.70C544.43 112.27 548.87 111.46 553.30 111.80C555.53 111.97 557.77 112.73 560.00 112.90C564.43 113.23 568.87 111.97 573.30 111.90C577.77 111.82 582.23 112.12 586.70 112.40C591.13 112.68 595.57 113.53 600.00 113.60C604.43 113.67 608.87 113.30 613.30 112.90C617.77 112.49 622.23 110.73 626.70 111.10C628.37 111.24 630.03 112.44 631.70 112.00C632.47 111.80 633.23 111.33 634.00 110.80C635.00 110.10 636.00 108.78 637.00 108.00C638.33 106.95 639.67 106.16 641.00 105.60C642.33 105.04 643.67 104.64 645.00 104.60C646.67 104.55 648.33 104.99 650.00 105.80C651.67 106.61 653.33 108.22 655.00 109.60C657.23 111.46 659.47 113.68 661.70 115.80C663.90 117.88 666.10 119.80 668.30 122.20C670.27 124.35 672.23 126.78 674.20 129.30C675.57 131.05 676.93 133.22 678.30 134.80C679.53 136.23 680.77 137.62 682.00 138.50C683.27 139.40 684.53 140.26 685.80 140.20C687.03 140.14 688.27 139.10 689.50 138.20C690.90 137.18 692.30 135.50 693.70 134.20C694.80 133.18 695.90 131.94 697.00 131.20C698.40 130.26 699.80 130.01 701.20 129.50C702.53 129.02 703.87 128.84 705.20 128.20C706.37 127.64 707.53 126.86 708.70 126.00C709.87 125.14 711.03 123.82 712.20 123.00C713.43 122.14 714.67 121.14 715.90 121.00C716.83 120.89 717.77 121.14 718.70 121.50C719.53 121.82 720.37 122.51 721.20 123.00C722.30 123.65 723.40 125.26 724.50 124.90C725.23 124.66 725.97 123.61 726.70 122.70C727.53 121.67 728.37 120.11 729.20 118.90C730.53 116.96 731.87 114.76 733.20 113.50C734.53 112.24 735.87 111.10 737.20 111.20C738.53 111.30 739.87 112.52 741.20 114.20C742.53 115.88 743.87 118.69 745.20 121.50C746.13 123.47 747.07 126.57 748.00 128.00C749.10 129.69 750.20 130.25 751.30 130.40C752.87 130.61 754.43 128.22 756.00 127.30C759.10 125.48 762.20 122.70 765.30 123.00C767.53 123.22 769.77 123.71 772.00 126.50C773.77 128.71 775.53 132.34 777.30 136.70C778.70 140.15 780.10 144.15 781.50 149.00C782.83 153.62 784.17 159.08 785.50 165.00C786.73 170.48 787.97 177.25 789.20 183.00C790.20 187.66 791.20 194.33 792.20 196.50C792.57 197.30 792.93 198.09 793.30 198.00C793.93 197.84 794.57 193.96 795.20 192.00C796.20 188.90 797.20 185.14 798.20 183.00C799.47 180.29 800.73 179.31 802.00 178.50C803.00 177.86 804.00 177.60 805.00 177.70C806.00 177.80 807.00 178.31 808.00 179.20C809.23 180.30 810.47 183.10 811.70 184.50C812.47 185.37 813.23 186.84 814.00 186.70C814.83 186.55 815.67 184.74 816.50 183.00C817.67 180.56 818.83 176.17 820.00 172.50C821.50 167.78 823.00 162.09 824.50 157.50C826.57 151.17 828.63 146.37 830.70 140.70C832.47 135.85 834.23 130.36 836.00 126.00C837.77 121.64 839.53 117.19 841.30 114.50C843.10 111.76 844.90 109.56 846.70 109.50C848.03 109.46 849.37 111.14 850.70 112.00C852.90 113.42 855.10 115.09 857.30 116.50C859.53 117.93 861.77 118.42 864.00 120.50C865.77 122.15 867.53 124.69 869.30 127.00C871.10 129.35 872.90 132.81 874.70 134.50C875.63 135.38 876.57 136.62 877.50 136.50C878.77 136.34 880.03 133.51 881.30 131.50C882.63 129.39 883.97 125.71 885.30 124.00C886.63 122.29 887.97 121.41 889.30 121.00C891.10 120.44 892.90 121.93 894.70 122.00C896.47 122.07 898.23 121.28 900.00 121.50C901.77 121.72 903.53 122.92 905.30 123.50C907.10 124.09 908.90 124.92 910.70 125.00C912.90 125.10 915.10 123.50 917.30 123.50C919.10 123.50 920.90 123.85 922.70 124.50C924.90 125.30 927.10 126.69 929.30 128.50C931.10 129.98 932.90 131.56 934.70 134.00C936.03 135.81 937.37 138.50 938.70 140.50C940.03 142.50 941.37 144.59 942.70 146.00C944.23 147.62 945.77 150.22 947.30 149.30C948.37 148.66 949.43 146.50 950.50 144.00C951.83 140.88 953.17 134.14 954.50 131.00C955.90 127.70 957.30 124.74 958.70 124.70C960.13 124.66 961.57 128.33 963.00 131.00C964.33 133.48 965.67 137.57 967.00 140.00C968.43 142.62 969.87 145.50 971.30 146.00C972.87 146.54 974.43 142.87 976.00 142.70C977.77 142.51 979.53 144.23 981.30 145.50C983.10 146.79 984.90 148.99 986.70 150.50C988.47 151.98 990.23 153.84 992.00 154.50C993.33 155.00 994.67 155.59 996.00 155.00C997.33 154.41 998.67 151.62 1000.00 150.50C1001.33 149.38 1002.67 148.32 1004.00 148.20C1005.77 148.04 1007.53 149.81 1009.30 151.00C1011.10 152.22 1012.90 153.99 1014.70 155.50C1016.47 156.99 1018.23 157.75 1020.00 160.00C1021.33 161.70 1022.67 164.59 1024.00 166.50C1025.33 168.41 1026.67 169.23 1028.00 171.50C1028.90 173.03 1029.80 174.68 1030.70 177.00C1031.37 178.72 1032.03 180.46 1032.70 183.00C1033.37 185.54 1034.03 188.37 1034.70 192.30C1035.37 196.23 1036.03 202.07 1036.70 206.70C1037.47 212.02 1038.23 218.02 1039.00 222.00C1039.23 223.21 1039.47 225.18 1039.70 225.30C1039.97 225.44 1040.23 223.42 1040.50 222.00C1040.77 220.58 1041.03 218.58 1041.30 216.70C1041.87 212.71 1042.43 207.35 1043.00 203.30C1043.77 197.82 1044.53 192.45 1045.30 189.00C1046.20 184.94 1047.10 183.91 1048.00 181.70C1048.90 179.49 1049.80 177.08 1050.70 175.70C1051.57 174.37 1052.43 173.52 1053.30 173.30C1054.20 173.07 1055.10 173.50 1056.00 174.30C1056.90 175.10 1057.80 176.70 1058.70 178.30C1059.57 179.84 1060.43 181.39 1061.30 183.70C1061.97 185.48 1062.63 188.25 1063.30 190.00C1064.20 192.36 1065.10 194.21 1066.00 195.30C1066.67 196.11 1067.33 196.38 1068.00 196.70C1069.10 197.23 1070.20 196.91 1071.30 197.30C1072.20 197.62 1073.10 198.25 1074.00 198.70C1074.90 199.15 1075.80 199.00 1076.70 200.00C1077.37 200.74 1078.03 200.88 1078.70 203.30C1079.13 204.87 1079.57 208.42 1080.00 210.00C1080.57 212.07 1081.13 212.86 1081.70 213.30C1082.47 213.89 1083.23 212.38 1084.00 212.00C1085.10 211.46 1086.20 211.48 1087.30 210.70C1088.20 210.06 1089.10 208.87 1090.00 208.00C1090.90 207.13 1091.80 207.01 1092.70 205.50C1093.47 204.22 1094.23 201.38 1095.00 200.00C1095.83 198.50 1096.67 197.00 1097.50 197.00C1098.33 197.00 1099.17 198.59 1100.00 200.00C1101.00 201.70 1102.00 204.50 1103.00 207.00C1104.00 209.50 1105.00 212.17 1106.00 215.00C1107.00 217.83 1108.00 221.60 1109.00 224.00C1109.67 225.60 1110.33 227.56 1111.00 228.00C1111.67 228.44 1112.33 227.42 1113.00 227.00C1113.83 226.47 1114.67 224.85 1115.50 225.00C1116.33 225.15 1117.17 227.34 1118.00 228.00C1118.67 228.53 1119.33 229.22 1120.00 229.00C1121.00 228.68 1122.00 225.67 1123.00 224.00C1124.00 222.33 1125.00 219.15 1126.00 219.00C1127.00 218.85 1128.00 219.09 1129.00 223.00C1129.67 225.61 1130.33 230.75 1131.00 235.00C1131.50 238.19 1132.00 241.97 1132.50 245.00C1132.90 247.43 1133.30 249.20 1133.70 251.70C1134.13 254.41 1134.57 259.77 1135.00 260.80C1135.57 262.14 1136.13 257.13 1136.70 255.80C1137.23 254.55 1137.77 253.26 1138.30 252.90C1139.13 252.33 1139.97 254.08 1140.80 255.00C1141.93 256.25 1143.07 258.45 1144.20 260.00C1145.30 261.51 1146.40 265.36 1147.50 264.20C1148.07 263.60 1148.63 260.36 1149.20 260.00C1149.80 259.61 1150.40 260.31 1151.00 262.00C1151.67 263.88 1152.33 268.73 1153.00 272.00C1153.83 276.09 1154.67 280.85 1155.50 284.00C1156.57 288.03 1157.63 291.32 1158.70 292.30C1159.87 293.37 1161.03 292.73 1162.20 290.00C1163.17 287.74 1164.13 281.37 1165.10 278.30C1165.87 275.86 1166.63 273.87 1167.40 272.50C1168.57 270.42 1169.73 267.74 1170.90 269.60C1171.70 270.88 1172.50 274.23 1173.30 278.30C1174.07 282.21 1174.83 289.41 1175.60 293.50C1176.17 296.52 1176.73 300.57 1177.30 301.00C1177.90 301.46 1178.50 295.60 1179.10 295.80C1179.67 295.99 1180.23 298.60 1180.80 301.70C1181.40 304.98 1182.00 307.27 1182.60 315.70C1182.87 319.45 1183.13 327.90 1183.40 329.60C1183.80 332.14 1184.20 319.04 1184.60 320.00C1185.10 321.20 1185.60 336.71 1186.10 344.20C1186.67 352.69 1187.23 361.57 1187.80 367.50C1188.20 371.69 1188.60 377.40 1189.00 377.40C1189.40 377.40 1189.80 372.33 1190.20 367.50C1190.57 363.07 1190.93 354.72 1191.30 350.00C1191.70 344.85 1192.10 340.85 1192.50 338.30C1193.47 332.14 1194.43 338.10 1195.40 336.60C1196.00 335.67 1196.60 334.21 1197.20 332.50C1197.77 330.89 1198.33 320.02 1198.90 326.70C1199.10 329.06 1199.30 334.42 1199.50 338.30C1199.90 346.06 1200.30 353.94 1200.70 361.70C1200.90 365.58 1201.10 369.43 1201.30 373.30" stroke="#9e00a6"/>
<path d="M49.60 283.30C50.83 290.20 52.07 297.01 53.30 304.00C54.63 311.56 55.97 319.33 57.30 327.00C58.63 334.67 59.97 342.30 61.30 350.00C61.93 353.66 62.57 356.63 63.20 361.00C63.38 362.26 63.57 364.82 63.75 365.00C63.97 365.21 64.18 362.32 64.40 361.00C65.37 355.11 66.33 349.76 67.30 344.00C68.62 336.16 69.93 329.74 71.25 320.00C71.93 314.95 72.62 308.64 73.30 303.30C74.20 296.26 75.10 288.55 76.00 283.30C77.00 277.47 78.00 273.76 79.00 270.70C80.23 266.92 81.47 265.90 82.70 264.00C84.90 260.61 87.10 259.02 89.30 256.70C91.53 254.35 93.77 252.14 96.00 250.00C98.67 247.44 101.33 244.89 104.00 242.70C107.10 240.15 110.20 237.89 113.30 236.00C116.43 234.09 119.57 232.96 122.70 231.30C126.23 229.42 129.77 227.35 133.30 225.30C137.77 222.71 142.23 219.86 146.70 217.30C151.13 214.76 155.57 212.52 160.00 210.00C164.90 207.21 169.80 204.48 174.70 201.30C181.47 196.91 188.23 190.97 195.00 186.50C200.33 182.98 205.67 180.24 211.00 176.80C215.33 174.01 219.67 170.59 224.00 168.00C228.33 165.41 232.67 163.09 237.00 161.20C241.33 159.31 245.67 157.85 250.00 156.60C254.23 155.38 258.47 154.79 262.70 153.70C266.23 152.79 269.77 152.06 273.30 150.70C277.77 148.98 282.23 146.28 286.70 143.70C291.13 141.14 295.57 137.58 300.00 135.30C303.33 133.58 306.67 132.11 310.00 131.00C313.10 129.97 316.20 129.18 319.30 128.70C322.87 128.14 326.43 128.08 330.00 128.00C334.43 127.90 338.87 128.30 343.30 128.30C347.77 128.30 352.23 127.89 356.70 128.00C359.80 128.08 362.90 128.23 366.00 128.60C369.10 128.97 372.20 129.67 375.30 130.30C378.87 131.02 382.43 132.28 386.00 132.70C389.57 133.12 393.13 132.86 396.70 133.00C399.37 133.11 402.03 132.88 404.70 133.40C406.80 133.81 408.90 134.05 411.00 135.50C413.00 136.89 415.00 139.83 417.00 142.00C419.00 144.17 421.00 146.87 423.00 148.50C425.10 150.21 427.20 152.13 429.30 152.00C431.10 151.88 432.90 149.93 434.70 148.70C436.47 147.49 438.23 145.74 440.00 144.70C441.77 143.66 443.53 142.34 445.30 142.40C446.63 142.45 447.97 142.98 449.30 144.00C450.63 145.02 451.97 147.44 453.30 148.70C454.63 149.96 455.97 151.60 457.30 151.60C458.63 151.60 459.97 151.03 461.30 148.70C462.43 146.72 463.57 142.93 464.70 139.30C465.80 135.78 466.90 130.80 468.00 127.30C469.33 123.06 470.67 119.55 472.00 116.70C473.77 112.93 475.53 110.61 477.30 108.70C479.10 106.75 480.90 105.65 482.70 105.00C484.03 104.52 485.37 104.28 486.70 104.40C488.47 104.56 490.23 105.66 492.00 106.70C493.77 107.74 495.53 109.52 497.30 110.70C499.53 112.19 501.77 113.83 504.00 114.50C506.23 115.17 508.47 115.06 510.70 115.00C512.90 114.94 515.10 114.14 517.30 114.10C520.43 114.05 523.57 115.41 526.70 115.50C531.13 115.63 535.57 114.23 540.00 113.80C544.43 113.37 548.87 112.76 553.30 112.90C555.53 112.97 557.77 113.43 560.00 113.50C564.43 113.63 568.87 112.57 573.30 112.50C577.77 112.42 582.23 112.72 586.70 113.00C591.13 113.28 595.57 114.13 600.00 114.20C604.43 114.27 608.87 113.90 613.30 113.50C617.77 113.09 622.23 112.12 626.70 111.70C628.37 111.54 630.03 112.20 631.70 111.30C633.37 110.40 635.03 107.26 636.70 105.80C638.37 104.34 640.03 103.20 641.70 102.50C643.07 101.92 644.43 101.45 645.80 101.50C647.20 101.55 648.60 102.08 650.00 102.90C651.67 103.88 653.33 105.91 655.00 107.50C657.23 109.63 659.47 111.97 661.70 114.20C663.90 116.40 666.10 118.29 668.30 120.80C670.27 123.04 672.23 125.61 674.20 128.30C675.57 130.17 676.93 132.59 678.30 134.20C679.43 135.54 680.57 136.71 681.70 137.50C682.67 138.18 683.63 138.87 684.60 138.90C685.83 138.94 687.07 137.80 688.30 136.90C689.70 135.88 691.10 134.20 692.50 132.90C693.60 131.88 694.70 130.64 695.80 129.90C697.20 128.96 698.60 128.71 700.00 128.20C701.33 127.72 702.67 127.54 704.00 126.90C705.17 126.34 706.33 125.56 707.50 124.70C708.67 123.84 709.83 122.52 711.00 121.70C712.23 120.84 713.47 119.84 714.70 119.70C715.63 119.59 716.57 119.84 717.50 120.20C718.33 120.52 719.17 121.21 720.00 121.70C721.10 122.35 722.20 123.96 723.30 123.60C724.03 123.36 724.77 122.31 725.50 121.40C726.33 120.37 727.17 118.81 728.00 117.60C729.33 115.66 730.67 113.46 732.00 112.20C733.33 110.94 734.67 109.80 736.00 109.90C737.33 110.00 738.67 111.22 740.00 112.90C741.33 114.58 742.67 117.87 744.00 120.20C745.33 122.53 746.67 125.38 748.00 126.90C749.10 128.15 750.20 129.23 751.30 129.30C752.87 129.41 754.43 126.65 756.00 125.30C757.77 123.78 759.53 121.81 761.30 120.70C763.10 119.57 764.90 118.40 766.70 118.50C768.47 118.60 770.23 119.75 772.00 121.30C773.77 122.85 775.53 124.98 777.30 128.00C778.20 129.54 779.10 130.78 780.00 133.30C780.90 135.82 781.80 139.79 782.70 143.30C784.03 148.49 785.37 153.73 786.70 160.00C787.80 165.17 788.90 170.01 790.00 177.00C791.00 183.35 792.00 191.61 793.00 199.50C793.73 205.28 794.47 211.38 795.20 217.50C795.70 221.67 796.20 229.10 796.70 230.20C797.20 231.30 797.70 226.95 798.20 225.00C798.97 222.01 799.73 217.00 800.50 214.50C801.50 211.24 802.50 210.49 803.50 209.20C805.00 207.27 806.50 208.10 808.00 206.20C809.00 204.93 810.00 203.23 811.00 201.00C812.50 197.65 814.00 192.25 815.50 187.50C817.00 182.75 818.50 177.50 820.00 172.50C821.50 167.50 823.00 162.09 824.50 157.50C826.57 151.17 828.63 146.37 830.70 140.70C832.47 135.85 834.23 130.44 836.00 126.00C837.77 121.56 839.53 116.95 841.30 114.00C843.10 111.00 844.90 108.13 846.70 108.00C848.03 107.90 849.37 109.73 850.70 110.70C852.90 112.29 855.10 114.46 857.30 116.00C859.53 117.56 861.77 118.03 864.00 120.00C865.77 121.56 867.53 124.02 869.30 126.00C871.10 128.02 872.90 130.82 874.70 132.00C875.80 132.72 876.90 133.59 878.00 133.30C879.10 133.01 880.20 131.43 881.30 130.00C882.63 128.27 883.97 124.85 885.30 123.30C886.63 121.75 887.97 120.79 889.30 120.50C891.10 120.11 892.90 122.21 894.70 122.50C896.47 122.79 898.23 122.28 900.00 122.50C901.77 122.72 903.53 123.59 905.30 124.00C907.10 124.42 908.90 124.91 910.70 125.00C912.90 125.10 915.10 124.10 917.30 124.30C918.87 124.44 920.43 124.61 922.00 125.50C923.33 126.26 924.67 127.14 926.00 129.00C927.57 131.19 929.13 135.99 930.70 138.70C932.47 141.76 934.23 144.65 936.00 146.00C937.77 147.35 939.53 147.11 941.30 147.30C943.10 147.50 944.90 148.12 946.70 147.30C947.57 146.90 948.43 146.57 949.30 145.30C950.63 143.34 951.97 137.38 953.30 134.70C955.10 131.08 956.90 127.96 958.70 128.00C960.47 128.04 962.23 132.04 964.00 134.70C965.77 137.36 967.53 143.01 969.30 144.00C971.10 145.01 972.90 141.30 974.70 141.30C976.90 141.30 979.10 143.51 981.30 145.30C983.10 146.77 984.90 149.13 986.70 150.70C988.47 152.24 990.23 154.01 992.00 154.70C993.33 155.22 994.67 155.99 996.00 155.30C997.33 154.61 998.67 151.24 1000.00 150.00C1001.33 148.76 1002.67 147.80 1004.00 147.70C1005.77 147.57 1007.53 149.46 1009.30 150.70C1011.10 151.97 1012.90 153.86 1014.70 155.30C1016.47 156.72 1018.23 157.64 1020.00 159.30C1021.77 160.96 1023.53 163.21 1025.30 165.30C1027.10 167.43 1028.90 168.13 1030.70 172.00C1031.47 173.65 1032.23 175.04 1033.00 178.00C1033.77 180.96 1034.53 185.66 1035.30 190.00C1036.20 195.09 1037.10 200.07 1038.00 206.70C1038.67 211.61 1039.33 218.41 1040.00 223.30C1040.43 226.48 1040.87 228.87 1041.30 232.00C1041.62 234.29 1041.93 239.25 1042.25 239.25C1042.57 239.25 1042.88 233.73 1043.20 232.00C1043.47 230.54 1043.73 230.56 1044.00 229.00C1044.43 226.47 1044.87 220.82 1045.30 216.70C1045.77 212.26 1046.23 207.49 1046.70 203.30C1047.23 198.51 1047.77 193.37 1048.30 190.00C1049.03 185.37 1049.77 183.46 1050.50 181.50C1051.57 178.66 1052.63 177.94 1053.70 177.70C1054.80 177.45 1055.90 178.53 1057.00 180.00C1058.00 181.34 1059.00 184.28 1060.00 186.00C1060.90 187.55 1061.80 188.18 1062.70 190.00C1063.57 191.75 1064.43 194.73 1065.30 196.70C1066.20 198.74 1067.10 200.58 1068.00 202.00C1068.90 203.42 1069.80 204.41 1070.70 205.30C1071.57 206.15 1072.43 206.74 1073.30 207.30C1074.20 207.88 1075.10 207.69 1076.00 208.70C1076.67 209.45 1077.33 209.78 1078.00 212.00C1078.43 213.45 1078.87 216.18 1079.30 218.00C1079.77 219.96 1080.23 221.71 1080.70 223.30C1081.13 224.78 1081.57 226.42 1082.00 227.30C1082.67 228.65 1083.33 228.70 1084.00 228.70C1084.67 228.70 1085.33 227.99 1086.00 227.30C1086.67 226.61 1087.33 225.55 1088.00 224.50C1089.00 222.93 1090.00 220.75 1091.00 219.00C1092.00 217.25 1093.00 215.83 1094.00 214.00C1095.00 212.17 1096.00 208.15 1097.00 208.00C1098.00 207.85 1099.00 210.69 1100.00 213.00C1101.00 215.31 1102.00 219.34 1103.00 222.00C1104.00 224.66 1105.00 227.01 1106.00 229.00C1107.00 230.99 1108.00 233.91 1109.00 234.00C1109.83 234.08 1110.67 232.00 1111.50 231.00C1112.33 230.00 1113.17 228.54 1114.00 228.00C1115.67 226.92 1117.33 229.28 1119.00 229.00C1120.33 228.78 1121.67 227.54 1123.00 227.00C1124.00 226.60 1125.00 225.06 1126.00 226.00C1126.67 226.63 1127.33 227.81 1128.00 230.00C1128.40 231.31 1128.80 233.01 1129.20 235.00C1130.03 239.15 1130.87 244.81 1131.70 251.70C1132.23 256.11 1132.77 264.40 1133.30 266.70C1133.60 267.99 1133.90 268.15 1134.20 268.30C1134.73 268.57 1135.27 267.75 1135.80 265.80C1136.20 264.34 1136.60 260.53 1137.00 259.20C1137.43 257.76 1137.87 257.86 1138.30 257.50C1139.53 256.49 1140.77 257.84 1142.00 258.00C1143.33 258.17 1144.67 258.46 1146.00 258.50C1147.33 258.54 1148.67 257.84 1150.00 258.30C1151.10 258.68 1152.20 258.45 1153.30 260.80C1153.93 262.15 1154.57 264.19 1155.20 266.70C1155.97 269.74 1156.73 274.04 1157.50 278.30C1158.27 282.56 1159.03 287.54 1159.80 292.30C1160.60 297.27 1161.40 302.62 1162.20 307.50C1162.77 310.96 1163.33 318.83 1163.90 317.60C1164.30 316.73 1164.70 311.13 1165.10 307.50C1165.50 303.87 1165.90 298.27 1166.30 295.80C1167.07 291.06 1167.83 296.93 1168.60 293.50C1169.00 291.71 1169.40 287.80 1169.80 285.30C1170.37 281.76 1170.93 277.14 1171.50 276.00C1172.27 274.46 1173.03 278.65 1173.80 280.70C1174.60 282.84 1175.40 287.39 1176.20 288.80C1177.37 290.86 1178.53 286.91 1179.70 288.80C1180.47 290.04 1181.23 292.32 1182.00 295.80C1182.77 299.28 1183.53 300.10 1184.30 310.00C1184.90 317.74 1185.50 334.46 1186.10 344.20C1186.67 353.40 1187.23 361.57 1187.80 367.50C1188.20 371.69 1188.60 377.40 1189.00 377.40C1189.40 377.40 1189.80 372.33 1190.20 367.50C1190.57 363.07 1190.93 354.72 1191.30 350.00C1191.70 344.85 1192.10 340.85 1192.50 338.30C1193.47 332.14 1194.43 338.10 1195.40 336.60C1196.00 335.67 1196.60 334.21 1197.20 332.50C1197.77 330.89 1198.33 320.02 1198.90 326.70C1199.10 329.06 1199.30 334.42 1199.50 338.30C1199.90 346.06 1200.30 353.94 1200.70 361.70C1200.90 365.58 1201.10 369.43 1201.30 373.30" stroke="#127c7c"/>
<path d="M49.60 230.00C51.30 237.77 53.00 246.17 54.70 253.30C56.47 260.71 58.23 264.70 60.00 273.50C60.83 277.65 61.67 284.20 62.50 287.50C63.00 289.48 63.50 291.85 64.00 292.00C64.50 292.15 65.00 289.74 65.50 288.50C66.57 285.86 67.63 285.98 68.70 279.70C69.13 277.15 69.57 272.79 70.00 270.00C70.67 265.71 71.33 263.33 72.00 260.00C73.33 253.33 74.67 245.06 76.00 240.00C77.33 234.94 78.67 231.88 80.00 229.30C82.23 224.97 84.47 224.59 86.70 223.30C88.90 222.02 91.10 221.39 93.30 221.30C95.53 221.20 97.77 221.43 100.00 222.70C102.23 223.97 104.47 225.87 106.70 229.30C108.47 232.01 110.23 234.94 112.00 240.00C113.77 245.06 115.53 250.74 117.30 260.00C117.77 262.45 118.23 265.63 118.70 268.00C119.80 273.59 120.90 277.25 122.00 280.50C122.90 283.16 123.80 286.69 124.70 286.70C125.57 286.71 126.43 283.97 127.30 281.00C128.20 277.92 129.10 272.82 130.00 268.00C130.83 263.53 131.67 257.87 132.50 253.30C133.67 246.91 134.83 240.86 136.00 236.00C137.33 230.45 138.67 226.54 140.00 222.70C142.23 216.28 144.47 211.94 146.70 208.00C148.90 204.12 151.10 202.09 153.30 199.00C155.53 195.86 157.77 191.77 160.00 189.30C162.23 186.83 164.47 185.40 166.70 184.00C169.37 182.32 172.03 181.25 174.70 180.40C177.80 179.41 180.90 179.07 184.00 178.70C187.10 178.33 190.20 178.27 193.30 178.10C196.87 177.90 200.43 177.94 204.00 177.60C207.57 177.26 211.13 176.92 214.70 176.00C218.70 174.97 222.70 173.16 226.70 171.30C231.13 169.24 235.57 166.33 240.00 164.00C244.43 161.67 248.87 159.29 253.30 157.30C257.77 155.29 262.23 154.01 266.70 152.00C271.13 150.01 275.57 147.96 280.00 145.30C283.57 143.16 287.13 140.22 290.70 138.00C293.80 136.07 296.90 134.19 300.00 132.70C303.33 131.10 306.67 129.85 310.00 128.80C313.10 127.83 316.20 126.98 319.30 126.50C322.87 125.94 326.43 125.88 330.00 125.80C334.43 125.70 338.87 126.10 343.30 126.10C347.77 126.10 352.23 125.69 356.70 125.80C359.80 125.88 362.90 126.03 366.00 126.40C369.10 126.77 372.20 127.47 375.30 128.10C378.87 128.82 382.43 130.08 386.00 130.50C389.57 130.92 393.13 130.66 396.70 130.80C399.37 130.91 402.03 129.72 404.70 131.20C405.80 131.81 406.90 133.07 408.00 134.00C410.67 136.25 413.33 138.38 416.00 140.70C418.23 142.64 420.47 145.32 422.70 146.70C424.23 147.65 425.77 148.97 427.30 148.70C428.87 148.42 430.43 147.02 432.00 144.70C433.77 142.08 435.53 136.16 437.30 132.70C439.53 128.32 441.77 124.63 444.00 122.00C446.23 119.37 448.47 117.83 450.70 116.70C452.90 115.59 455.10 114.92 457.30 115.00C459.53 115.08 461.77 116.04 464.00 117.30C466.23 118.56 468.47 121.20 470.70 122.70C472.47 123.88 474.23 125.23 476.00 125.70C477.33 126.06 478.67 126.21 480.00 126.00C481.77 125.73 483.53 124.49 485.30 123.30C487.10 122.09 488.90 119.78 490.70 118.70C492.47 117.64 494.23 117.01 496.00 116.70C498.67 116.24 501.33 116.73 504.00 117.30C505.33 117.58 506.67 118.12 508.00 118.50C510.67 119.25 513.33 120.14 516.00 120.50C518.67 120.86 521.33 120.94 524.00 120.80C527.10 120.64 530.20 119.77 533.30 119.20C537.77 118.38 542.23 117.32 546.70 116.50C551.13 115.69 555.57 114.82 560.00 114.30C564.43 113.78 568.87 113.37 573.30 113.30C577.77 113.22 582.23 113.52 586.70 113.80C591.13 114.08 595.57 114.93 600.00 115.00C604.43 115.07 608.87 114.70 613.30 114.30C617.77 113.89 622.23 113.57 626.70 112.50C627.80 112.24 628.90 111.62 630.00 111.60C631.00 111.58 632.00 111.77 633.00 112.20C634.23 112.73 635.47 113.59 636.70 115.00C637.80 116.25 638.90 118.47 640.00 120.00C641.10 121.53 642.20 123.22 643.30 124.20C644.43 125.21 645.57 125.83 646.70 126.00C647.80 126.16 648.90 125.76 650.00 125.40C651.10 125.04 652.20 124.14 653.30 123.80C654.43 123.45 655.57 123.23 656.70 123.30C657.80 123.36 658.90 123.71 660.00 124.20C661.40 124.83 662.80 126.07 664.20 127.10C666.13 128.52 668.07 130.14 670.00 131.70C671.67 133.05 673.33 134.48 675.00 135.80C676.67 137.12 678.33 138.83 680.00 139.60C681.53 140.31 683.07 140.87 684.60 140.60C685.83 140.38 687.07 139.50 688.30 138.60C689.70 137.58 691.10 135.90 692.50 134.60C693.60 133.58 694.70 132.34 695.80 131.60C697.20 130.66 698.60 130.41 700.00 129.90C701.33 129.42 702.67 129.24 704.00 128.60C705.17 128.04 706.33 127.26 707.50 126.40C708.67 125.54 709.83 124.22 711.00 123.40C712.23 122.54 713.47 121.54 714.70 121.40C715.63 121.29 716.57 121.54 717.50 121.90C718.33 122.22 719.17 122.91 720.00 123.40C721.10 124.05 722.20 125.66 723.30 125.30C724.03 125.06 724.77 124.01 725.50 123.10C726.33 122.07 727.17 120.51 728.00 119.30C729.33 117.36 730.67 115.16 732.00 113.90C733.33 112.64 734.67 111.50 736.00 111.60C737.33 111.70 738.67 112.92 740.00 114.60C741.33 116.28 742.67 119.57 744.00 121.90C745.33 124.23 746.67 127.08 748.00 128.60C749.10 129.85 750.20 130.68 751.30 131.00C753.30 131.59 755.30 129.34 757.30 128.70C759.53 127.98 761.77 126.81 764.00 127.00C766.23 127.19 768.47 128.30 770.70 130.00C772.90 131.68 775.10 134.86 777.30 137.30C779.10 139.30 780.90 141.98 782.70 143.30C783.80 144.11 784.90 145.13 786.00 145.00C787.33 144.84 788.67 143.24 790.00 141.30C791.57 139.02 793.13 134.25 794.70 131.30C796.47 127.97 798.23 125.31 800.00 122.70C802.23 119.40 804.47 116.32 806.70 114.00C809.37 111.23 812.03 109.66 814.70 108.00C817.37 106.34 820.03 105.22 822.70 104.00C825.37 102.78 828.03 101.52 830.70 100.70C833.37 99.88 836.03 98.75 838.70 99.00C840.47 99.17 842.23 99.68 844.00 100.70C845.77 101.72 847.53 103.56 849.30 105.30C851.10 107.08 852.90 109.57 854.70 111.30C857.37 113.86 860.03 114.71 862.70 117.30C864.47 119.02 866.23 120.54 868.00 123.30C869.77 126.06 871.53 131.08 873.30 134.00C875.10 136.97 876.90 141.11 878.70 141.00C879.47 140.95 880.23 140.31 881.00 139.50C882.43 137.99 883.87 133.31 885.30 131.50C887.10 129.23 888.90 128.51 890.70 128.20C892.47 127.89 894.23 129.32 896.00 129.30C898.23 129.27 900.47 127.54 902.70 127.30C905.37 127.01 908.03 127.74 910.70 128.00C913.80 128.30 916.90 127.79 920.00 129.00C922.23 129.87 924.47 131.46 926.70 133.30C928.90 135.11 931.10 136.94 933.30 140.00C935.10 142.50 936.90 145.72 938.70 149.30C940.47 152.82 942.23 158.42 944.00 161.30C945.33 163.47 946.67 166.59 948.00 166.00C949.33 165.41 950.67 161.15 952.00 157.30C953.33 153.45 954.67 145.70 956.00 142.70C957.10 140.22 958.20 138.71 959.30 138.70C960.87 138.69 962.43 142.72 964.00 146.70C965.33 150.09 966.67 156.97 968.00 160.00C969.33 163.03 970.67 165.70 972.00 165.30C973.33 164.90 974.67 159.44 976.00 157.30C977.77 154.46 979.53 151.90 981.30 151.30C983.10 150.69 984.90 152.87 986.70 153.30C988.90 153.83 991.10 153.07 993.30 154.00C995.10 154.76 996.90 157.52 998.70 158.00C1000.47 158.47 1002.23 157.08 1004.00 157.30C1005.33 157.47 1006.67 157.88 1008.00 158.70C1009.77 159.79 1011.53 162.79 1013.30 164.00C1015.53 165.53 1017.77 164.67 1020.00 166.30C1021.33 167.27 1022.67 169.06 1024.00 170.30C1025.57 171.76 1027.13 173.00 1028.70 174.30C1029.80 175.22 1030.90 175.57 1032.00 177.00C1032.90 178.17 1033.80 180.35 1034.70 181.70C1035.57 183.00 1036.43 185.59 1037.30 185.00C1037.97 184.54 1038.63 182.10 1039.30 180.30C1040.20 177.87 1041.10 173.80 1042.00 171.70C1043.00 169.37 1044.00 167.21 1045.00 167.30C1046.00 167.39 1047.00 169.31 1048.00 172.30C1048.67 174.29 1049.33 177.75 1050.00 180.30C1050.90 183.74 1051.80 187.27 1052.70 190.00C1054.23 194.65 1055.77 196.00 1057.30 200.00C1058.63 203.47 1059.97 207.08 1061.30 212.00C1062.20 215.32 1063.10 219.20 1064.00 223.30C1064.67 226.34 1065.33 229.49 1066.00 233.00C1066.33 234.76 1066.67 238.50 1067.00 238.50C1067.33 238.50 1067.67 235.47 1068.00 233.00C1068.43 229.79 1068.87 223.19 1069.30 220.00C1069.77 216.56 1070.23 214.79 1070.70 213.30C1071.37 211.17 1072.03 210.93 1072.70 210.70C1073.57 210.39 1074.43 212.60 1075.30 212.70C1075.97 212.78 1076.63 213.30 1077.30 212.00C1077.77 211.09 1078.23 208.52 1078.70 207.30C1079.37 205.56 1080.03 204.71 1080.70 204.00C1081.80 202.82 1082.90 203.27 1084.00 203.00C1085.33 202.68 1086.67 202.23 1088.00 202.30C1089.00 202.35 1090.00 202.41 1091.00 203.00C1092.00 203.59 1093.00 204.62 1094.00 206.00C1095.17 207.61 1096.33 212.54 1097.50 212.50C1098.33 212.47 1099.17 209.59 1100.00 209.00C1101.67 207.83 1103.33 209.18 1105.00 211.00C1106.33 212.46 1107.67 214.04 1109.00 218.00C1110.00 220.97 1111.00 226.17 1112.00 230.00C1113.00 233.83 1114.00 240.41 1115.00 241.00C1116.00 241.59 1117.00 236.33 1118.00 234.00C1119.00 231.67 1120.00 229.33 1121.00 227.00C1122.00 224.67 1123.00 221.63 1124.00 220.00C1125.00 218.37 1126.00 217.00 1127.00 217.00C1128.00 217.00 1129.00 217.34 1130.00 220.00C1130.67 221.78 1131.33 224.79 1132.00 228.00C1132.43 230.09 1132.87 232.57 1133.30 235.00C1134.00 238.92 1134.70 243.02 1135.40 247.50C1135.93 250.91 1136.47 255.89 1137.00 258.30C1137.73 261.61 1138.47 261.86 1139.20 262.50C1140.13 263.31 1141.07 262.21 1142.00 262.00C1143.17 261.74 1144.33 261.80 1145.50 261.00C1146.67 260.20 1147.83 256.78 1149.00 257.00C1150.17 257.22 1151.33 259.34 1152.50 262.50C1153.40 264.94 1154.30 269.55 1155.20 272.50C1156.13 275.56 1157.07 281.26 1158.00 280.50C1158.80 279.85 1159.60 273.12 1160.40 270.50C1161.13 268.10 1161.87 265.75 1162.60 265.00C1163.83 263.74 1165.07 267.87 1166.30 269.00C1167.27 269.89 1168.23 270.16 1169.20 271.30C1169.97 272.21 1170.73 274.95 1171.50 274.80C1172.47 274.61 1173.43 267.82 1174.40 267.80C1175.20 267.78 1176.00 270.57 1176.80 272.50C1177.37 273.87 1177.93 276.95 1178.50 277.20C1179.27 277.54 1180.03 270.59 1180.80 271.30C1181.40 271.86 1182.00 275.79 1182.60 278.30C1183.37 281.51 1184.13 285.86 1184.90 288.80C1185.50 291.10 1186.10 295.44 1186.70 294.70C1187.07 294.25 1187.43 288.15 1187.80 290.00C1188.20 292.02 1188.60 296.66 1189.00 310.00C1189.20 316.67 1189.40 333.62 1189.60 336.00C1189.87 339.17 1190.13 319.92 1190.40 315.00C1190.90 305.77 1191.40 302.13 1191.90 305.00C1192.30 307.30 1192.70 327.95 1193.10 325.50C1193.40 323.66 1193.70 304.31 1194.00 303.00C1194.27 301.84 1194.53 310.46 1194.80 313.30C1195.40 319.69 1196.00 321.45 1196.60 324.80C1197.37 329.08 1198.13 352.95 1198.90 335.40C1199.10 330.82 1199.30 319.57 1199.50 315.00C1199.73 309.67 1199.97 308.61 1200.20 307.00C1200.47 305.16 1200.73 305.67 1201.00 305.00" stroke="#b28f20"/>
</g>
<path d="M40.5 14V533" stroke="#2222b0" stroke-width="1" shape-rendering="crispEdges"/>
<path d="M38 227.2H1201" stroke="#5252cc" stroke-width="1.4"/>
</svg>
<div class="t" style="left:22px;top:0px">dB</div>
<div class="yl" style="top:42.0px">110</div>
<div class="yl" style="top:85.9px">100</div>
<div class="yl" style="top:129.9px">90</div>
<div class="yl" style="top:173.8px">80</div>
<div class="yl" style="top:261.7px">60</div>
<div class="yl" style="top:305.6px">50</div>
<div class="yl" style="top:349.6px">40</div>
<div class="yl" style="top:393.5px">30</div>
<div class="yl" style="top:437.5px">20</div>
<div class="yl" style="top:481.4px">10</div>
<div class="yl" style="top:218px">70</div>
<div class="box" style="left:11px;top:220px;width:28px;height:15px;font-size:11px;line-height:13px;padding-top:1px">69,0</div>
<div class="xl" style="left:289px">20</div>
<div class="xl" style="left:446px">30</div>
<div class="xl" style="left:557px">40</div>
<div class="xl" style="left:644px">50</div>
<div class="xl" style="left:715px">60</div>
<div class="xl" style="left:774px">70</div>
<div class="xl" style="left:826px">80</div>
<div class="xl" style="left:872px">90</div>
<div class="xl" style="left:913px">100</div>
<div class="t" style="left:1185px;top:535px">200 Hz</div>
<div class="box" style="left:22px;top:533px;width:36px;height:15px;font-size:12px;line-height:13px;padding-top:1px">10,00</div>
<div class="title">All SPL<br>6 positions</div>
<div class="leg"></div>
<div class="cb" style="left:32px;top:556px"><svg width="11" height="11" viewBox="0 0 11 11"><path d="M0.9 5.8L3.9 8.7L10 2.2" fill="none" stroke="#333" stroke-width="1.2"/></svg></div>
<div class="lt" style="left:49.6px;top:558px;color:#9e0e0e">1: Окт 22 10:28:46</div>
<div class="sw" style="left:188px;top:562px;background:#9e0e0e"></div>
<div class="lt" style="left:271px;top:558px;color:#9e0e0e">dB<span class="new">NEW</span></div>
<div class="cb" style="left:323px;top:556px"><svg width="11" height="11" viewBox="0 0 11 11"><path d="M0.9 5.8L3.9 8.7L10 2.2" fill="none" stroke="#333" stroke-width="1.2"/></svg></div>
<div class="lt" style="left:340.6px;top:558px;color:#087408">2: Окт 22 10:29:04</div>
<div class="sw" style="left:479px;top:562px;background:#087408"></div>
<div class="lt" style="left:562px;top:558px;color:#087408">dB<span class="new">NEW</span></div>
<div class="cb" style="left:614px;top:556px"><svg width="11" height="11" viewBox="0 0 11 11"><path d="M0.9 5.8L3.9 8.7L10 2.2" fill="none" stroke="#333" stroke-width="1.2"/></svg></div>
<div class="lt" style="left:631.6px;top:558px;color:#3c3cae">3: Окт 22 10:29:24</div>
<div class="sw" style="left:770px;top:562px;background:#3c3cae"></div>
<div class="lt" style="left:853px;top:558px;color:#3c3cae">dB<span class="new">NEW</span></div>
<div class="cb" style="left:905px;top:556px"><svg width="11" height="11" viewBox="0 0 11 11"><path d="M0.9 5.8L3.9 8.7L10 2.2" fill="none" stroke="#333" stroke-width="1.2"/></svg></div>
<div class="lt" style="left:922.6px;top:558px;color:#9e00a6">4: Окт 22 10:29:51</div>
<div class="sw" style="left:1061px;top:562px;background:#9e00a6"></div>
<div class="lt" style="left:1144px;top:558px;color:#9e00a6">dB<span class="new">NEW</span></div>
<div class="cb" style="left:32px;top:579px"><svg width="11" height="11" viewBox="0 0 11 11"><path d="M0.9 5.8L3.9 8.7L10 2.2" fill="none" stroke="#333" stroke-width="1.2"/></svg></div>
<div class="lt" style="left:49.6px;top:581px;color:#127c7c">5: Окт 22 10:30:05</div>
<div class="sw" style="left:188px;top:585px;background:#127c7c"></div>
<div class="lt" style="left:271px;top:581px;color:#127c7c">dB<span class="new">NEW</span></div>
<div class="cb" style="left:323px;top:579px"><svg width="11" height="11" viewBox="0 0 11 11"><path d="M0.9 5.8L3.9 8.7L10 2.2" fill="none" stroke="#333" stroke-width="1.2"/></svg></div>
<div class="lt" style="left:340.6px;top:581px;color:#b28f20">6: Окт 22 10:30:41</div>
<div class="sw" style="left:479px;top:585px;background:#b28f20"></div>
<div class="lt" style="left:562px;top:581px;color:#b28f20">dB<span class="new">NEW</span></div>
</body></html>
